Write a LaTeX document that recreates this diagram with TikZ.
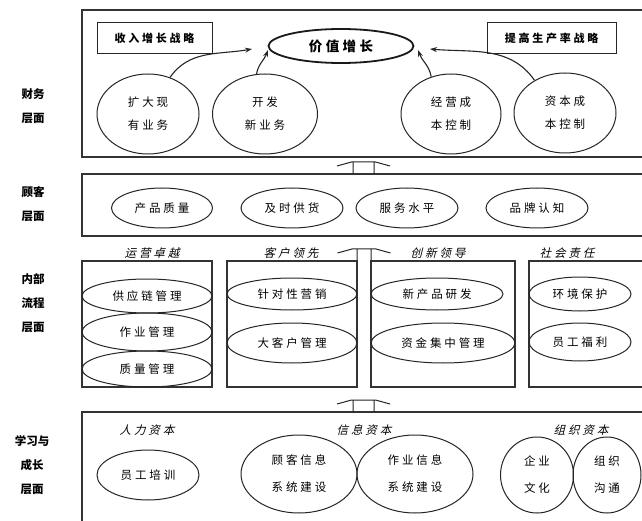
\documentclass[tikz,border=0pt]{standalone}
\usepackage{fontspec}
\setmainfont{Noto Sans CJK SC}
\newfontfamily\cjkit[FakeSlant=0.25]{Noto Sans CJK SC}
\usetikzlibrary{shapes.geometric,arrows.meta}
\newcommand\bodyfont{\fontsize{11.5}{23}\selectfont\addfontfeature{LetterSpace=25}}
\newcommand\learnfont{\fontsize{11.5}{27}\selectfont\addfontfeature{LetterSpace=25}}
\newcommand\boldfont{\fontsize{11.5}{24}\bfseries\selectfont}
\newcommand\stratfont{\fontsize{11}{14}\bfseries\selectfont\addfontfeature{LetterSpace=25}}
\newcommand\itfont{\cjkit\fontsize{11.5}{14}\selectfont\addfontfeature{LetterSpace=25}}
\begin{document}
\begin{tikzpicture}[x=1pt,y=-1pt,
  box/.style={draw=black!80, line width=1.1pt},
  ell/.style={ellipse, draw=black!85, line width=1pt, inner sep=0pt, align=center, font=\bodyfont},
  lell/.style={ell, font=\learnfont},
  lab/.style={align=center, font=\boldfont},
  itl/.style={font=\itfont},
  strat/.style={draw=black!85, line width=1pt, minimum height=31pt, inner sep=0pt, font=\stratfont},
  curv/.style={draw=black!85, line width=1.1pt, -{Stealth[length=7pt,width=5pt]}},
  hollowup/.pic={\draw[black!85, line width=1pt] (-#1,0) -- (-#1,-12) (#1,0) -- (#1,-12)
     (-26.5,-8) -- (-12,-12) -- (12,-12) -- (26.5,-8);}
]
\useasboundingbox (0,0) rectangle (642,521);
\fill[white] (0,0) rectangle (642,521);
\clip (0,0) rectangle (642,521);

% layer frames
\draw[box] (82,10) rectangle (700,157);
\draw[box] (82,174) rectangle (700,236);
\draw[box] (82,261) rectangle (212,387);
\draw[box] (227,261) rectangle (357,387);
\draw[box] (371,261) rectangle (515,387);
\draw[box] (529,261) rectangle (700,387);
\draw[box] (82,412) rectangle (700,560);

% left labels
\node[lab] (lf) at (33,106.5) {财务\\层面};
\node[lab] (lc) at (33,204) {顾客\\层面};
\node[lab] (li) at (33,303.5) {内部\\流程\\层面};
\node[lab] (ll) at (32,465.5) {学习与\\成长\\层面};

% financial
\node[strat, minimum width=115pt] (s1) at (154.5,38.5) {收入增长战略};
\node[strat, minimum width=129pt] (s2) at (551.5,38.5) {提高生产率战略};
\node[ellipse, draw=black!90, line width=1.8pt, minimum width=145pt, minimum height=34pt, inner sep=0pt,
      font=\fontsize{13.5}{16}\bfseries\selectfont\addfontfeature{LetterSpace=25}] (vg) at (341,46) {价值增长};
\node[ell, minimum width=102pt, minimum height=80pt] (f1) at (148,114) {扩大现\\有业务};
\node[ell, minimum width=105pt, minimum height=80pt] (f2) at (265,114) {开发\\新业务};
\node[ell, minimum width=100pt, minimum height=80pt] (f3) at (451,114) {经营成\\本控制};
\node[ell, minimum width=102pt, minimum height=80pt] (f4) at (565,113) {资本成\\本控制};
\coordinate (t1) at (252,49);
\coordinate (t2) at (268,50);
\coordinate (t3) at (418,50);
\coordinate (t4) at (430,49);
\draw[curv] (f1.59) to[out=55,in=190] (t1);
\draw[curv] (f2.102) to[out=80,in=250] (t2);
\draw[curv] (f3.118) to[out=100,in=290] (t3);
\draw[curv] (f4.133) to[out=125,in=-5] (t4);

% hollow arrows
\pic at (363.5,174) {hollowup=10.5};
\pic at (364,261) {hollowup=7};
\pic at (363.5,412) {hollowup=10.5};

% customer
\node[ell, minimum width=101pt, minimum height=40pt] (c1) at (162,208) {产品质量};
\node[ell, minimum width=102pt, minimum height=40pt] (c2) at (292,208) {及时供货};
\node[ell, minimum width=102pt, minimum height=40pt] (c3) at (407,208) {服务水平};
\node[ell, minimum width=102pt, minimum height=40pt] (c4) at (537,208) {品牌认知};

% internal process
\node[itl] (h1) at (152,253) {运营卓越};
\node[itl] (h2) at (291,253) {客户领先};
\node[itl] (h3) at (438,253) {创新领导};
\node[itl] (h4) at (567,253) {社会责任};
\node[ell, minimum width=130pt, minimum height=34pt] (i1) at (147,296) {供应链管理};
\node[ell, minimum width=130pt, minimum height=38pt] (i2) at (147,332) {作业管理};
\node[ell, minimum width=130pt, minimum height=36pt] (i3) at (147,369) {质量管理};
\node[ell, minimum width=130pt, minimum height=32pt] (i4) at (292,294) {针对性营销};
\node[ell, minimum width=130pt, minimum height=40pt] (i5) at (292,343) {大客户管理};
\node[ell, minimum width=132pt, minimum height=32pt] (i6) at (437,294) {新产品研发};
\node[ell, minimum width=144pt, minimum height=40pt] (i7) at (443,343) {资金集中管理};
\node[ell, minimum width=102pt, minimum height=34pt] (i8) at (580,294) {环境保护};
\node[ell, minimum width=102pt, minimum height=38pt] (i9) at (580,342) {员工福利};

% learning and growth
\node[itl] (g1) at (147,430) {人力资本};
\node[itl] (g2) at (364,430) {信息资本};
\node[itl] (g3) at (581,430) {组织资本};
\node[ell, minimum width=102pt, minimum height=50pt] (e1) at (148,475) {员工培训};
\node[lell, minimum width=116pt, minimum height=78pt] (e2) at (299,474) {顾客信息\\系统建设};
\node[lell, minimum width=116pt, minimum height=78pt] (e3) at (415,474) {作业信息\\系统建设};
\node[lell, minimum width=73pt, minimum height=76pt] (e4) at (537,475) {企业\\文化};
\node[lell, minimum width=68pt, minimum height=76pt] (e5) at (607,475) {组织\\沟通};
\end{tikzpicture}
\end{document}
